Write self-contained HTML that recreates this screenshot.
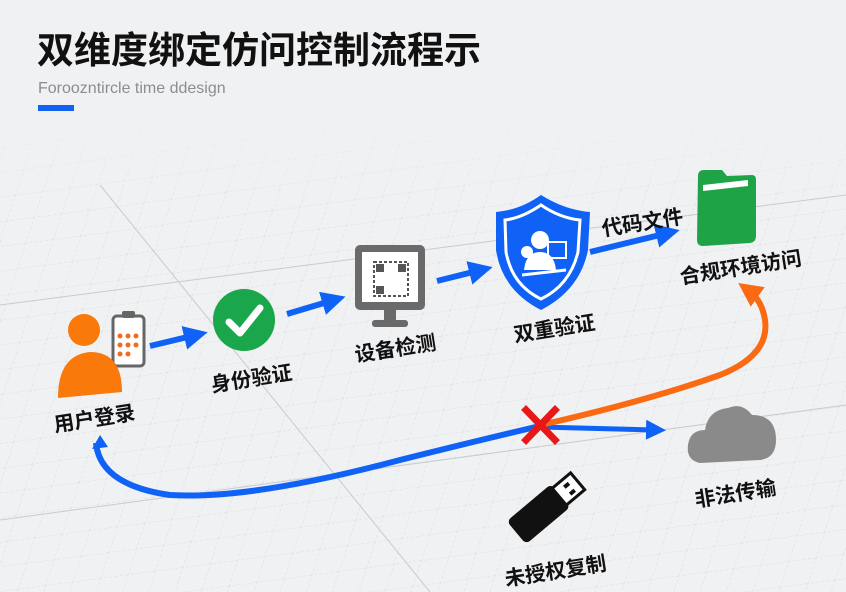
<!DOCTYPE html>
<html><head><meta charset="utf-8"><style>
html,body{margin:0;padding:0;width:846px;height:592px;overflow:hidden;background:#f0f1f3}
svg{display:block}
text{font-family:"Liberation Sans","Noto Sans CJK SC",sans-serif}
.lb{font-size:20.5px;font-weight:700;fill:#111}
</style></head><body>
<svg width="846" height="592" viewBox="0 0 846 592" xmlns="http://www.w3.org/2000/svg">
<defs>
<pattern id="g" width="26" height="26" patternUnits="userSpaceOnUse" patternTransform="skewX(-25) rotate(-8)">
<path d="M26 0H0V26" fill="none" stroke="#d8dade" stroke-width="1" stroke-dasharray="3 2"/>
</pattern>
<linearGradient id="fade" x1="0" y1="0" x2="0" y2="1"><stop offset="0" stop-color="#f0f1f3" stop-opacity="1"/><stop offset="1" stop-color="#f0f1f3" stop-opacity="0"/></linearGradient>
<marker id="ab" viewBox="0 0 10 10" refX="5" refY="5" markerWidth="4" markerHeight="4" orient="auto"><path d="M0 0L10 5L0 10z" fill="#0f62f5"/></marker>
<marker id="ao" viewBox="0 0 10 10" refX="5" refY="5" markerWidth="4" markerHeight="4" orient="auto"><path d="M0 0L10 5L0 10z" fill="#f96a12"/></marker>
</defs>
<rect width="846" height="592" fill="#f0f1f3"/>
<rect y="110" width="846" height="482" fill="url(#g)"/>
<rect y="100" width="846" height="110" fill="url(#fade)"/>
<line x1="0" y1="305" x2="846" y2="195" stroke="#c8cbcf" stroke-width="1"/>
<line x1="0" y1="520" x2="846" y2="405" stroke="#c8cbcf" stroke-width="1"/>
<line x1="100" y1="185" x2="430" y2="592" stroke="#c8cbcf" stroke-width="1"/>

<text x="37" y="63" font-size="37" font-weight="700" fill="#111">双维度绑定仿问控制流程示</text>
<text x="38" y="93" font-size="16" fill="#8a8d91">Foroozntircle time ddesign</text>
<rect x="38" y="105" width="36" height="6" fill="#1262f2"/>

<!-- user -->
<rect x="113" y="316" width="31" height="50" rx="4" fill="#fff" stroke="#666" stroke-width="3"/>
<rect x="122" y="311" width="13" height="7" rx="2" fill="#666"/>
<g fill="#f26a1b"><circle cx="120" cy="336" r="2.5"/><circle cx="128" cy="336" r="2.5"/><circle cx="136" cy="336" r="2.5"/><circle cx="120" cy="345" r="2.5"/><circle cx="128" cy="345" r="2.5"/><circle cx="136" cy="345" r="2.5"/><circle cx="120" cy="354" r="2.5"/><circle cx="128" cy="354" r="2.5"/></g>
<circle cx="84" cy="330" r="16" fill="#f9790a"/>
<path d="M58 398 Q58 355 90 352 Q122 352 122 392 Z" fill="#f9790a"/>
<text class="lb" transform="translate(55,432) rotate(-9)">用户登录</text>

<line x1="150" y1="346" x2="196" y2="335" stroke="#0f62f5" stroke-width="6" marker-end="url(#ab)"/>
<circle cx="244" cy="320" r="31" fill="#1aa64a"/>
<path d="M229 322 L240 333 L260 308" fill="none" stroke="#fff" stroke-width="7" stroke-linecap="round" stroke-linejoin="round"/>
<text class="lb" transform="translate(212,392) rotate(-9)">身份验证</text>

<line x1="287" y1="314" x2="334" y2="300" stroke="#0f62f5" stroke-width="6" marker-end="url(#ab)"/>
<rect x="355" y="245" width="70" height="65" rx="5" fill="#6a6a6a"/>
<rect x="362" y="252" width="56" height="50" fill="#fff"/>
<rect x="374" y="262" width="34" height="34" fill="none" stroke="#555" stroke-width="2" stroke-dasharray="3 2"/>
<rect x="376" y="264" width="8" height="8" fill="#555"/><rect x="398" y="264" width="8" height="8" fill="#555"/><rect x="376" y="286" width="8" height="8" fill="#555"/>
<rect x="384" y="310" width="12" height="12" fill="#6a6a6a"/>
<rect x="372" y="320" width="36" height="7" rx="3" fill="#6a6a6a"/>
<text class="lb" transform="translate(356,362) rotate(-9)">设备检测</text>

<line x1="437" y1="281" x2="481" y2="270" stroke="#0f62f5" stroke-width="6" marker-end="url(#ab)"/>
<path d="M541 195 Q565 210 590 212 L588 250 Q580 290 541 310 Q502 290 496 250 L496 212 Q520 210 541 195Z" fill="#0f62f5"/>
<path d="M541 205 Q560 218 580 220 L578 252 Q570 285 541 299 Q512 285 506 252 L505 220 Q522 218 541 205Z" fill="none" stroke="#fff" stroke-width="3"/>
<circle cx="540" cy="240" r="9" fill="#fff"/><circle cx="527" cy="252" r="6" fill="#fff"/>
<path d="M524 270 Q526 252 540 252 Q554 252 556 270Z" fill="#fff"/>
<rect x="548" y="242" width="18" height="16" fill="none" stroke="#fff" stroke-width="2"/>
<line x1="522" y1="275" x2="566" y2="270" stroke="#fff" stroke-width="3"/>
<text class="lb" transform="translate(515,342) rotate(-9)">双重验证</text>

<line x1="590" y1="252" x2="668" y2="233" stroke="#0f62f5" stroke-width="6" marker-end="url(#ab)"/>
<text class="lb" transform="translate(603,236) rotate(-9)">代码文件</text>

<path d="M698 176 Q698 170 704 170 L722 170 L727 176 L752 175 Q756 175 756 180 L756 236 Q756 242 750 243 L703 246 Q697 246 697 240Z" fill="#1ea447"/>
<path d="M703 185 L748 180 L748 186 L703 191Z" fill="#fff"/>
<text class="lb" transform="translate(681,284) rotate(-9)">合规环境访问</text>

<path d="M96 443 Q100 485 170 495 Q250 500 400 460 Q480 440 540 426" fill="none" stroke="#0f62f5" stroke-width="6"/>
<path d="M100 435 L92 449 L108 447Z" fill="#0f62f5"/>
<line x1="540" y1="427" x2="656" y2="430" stroke="#0f62f5" stroke-width="5" marker-end="url(#ab)"/>
<path d="M545 424 Q650 400 720 375 Q770 355 765 320 Q762 300 748 290" fill="none" stroke="#f96a12" stroke-width="6" marker-end="url(#ao)"/>
<path d="M526 410 L555 440 M555 410 L526 440" stroke="#e81818" stroke-width="7" stroke-linecap="square"/>

<path d="M700 463 Q686 460 688 445 Q690 430 705 430 Q708 410 728 408 Q742 402 752 415 Q776 415 776 440 Q776 458 760 460Z" fill="#8a8a8a"/>
<text class="lb" transform="translate(696,507) rotate(-9)">非法传输</text>

<g transform="translate(547,507) rotate(-40)">
<rect x="-40" y="-15" width="58" height="30" rx="5" fill="#111"/>
<rect x="16" y="-11" width="24" height="22" fill="#fff" stroke="#111" stroke-width="3"/>
<rect x="26" y="-6" width="6" height="4" fill="#111"/><rect x="26" y="3" width="6" height="4" fill="#111"/>
</g>
<text class="lb" transform="translate(506,586) rotate(-9)">未授权复制</text>
</svg>
</body></html>
